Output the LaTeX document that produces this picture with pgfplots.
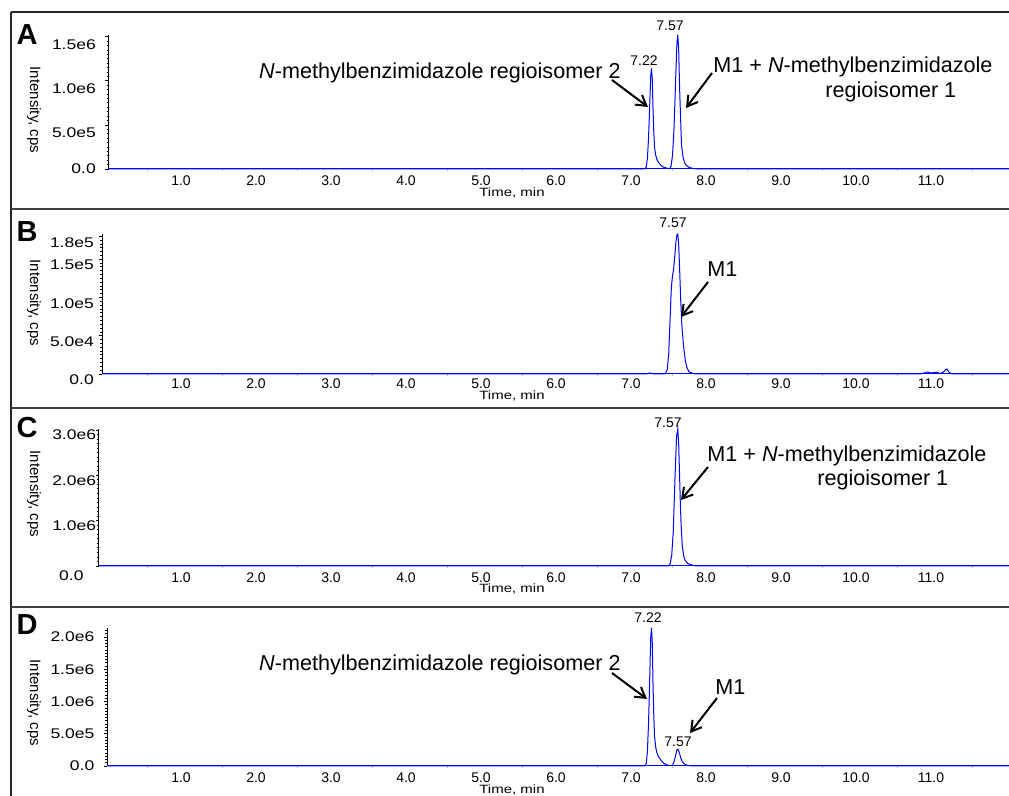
\documentclass[border=0pt]{standalone}
\usepackage{fontspec}
\setmainfont{Liberation Sans}
\usepackage{pgfplots}
\pgfplotsset{compat=1.18}
\usetikzlibrary{arrows.meta}

% Chromatogram traces (time in min, intensity in cps)
\pgfplotstableread{
t I
-0.02 0
7.13 0
7.15 22800
7.165 114000
7.18 342000
7.19 570000
7.20 820800
7.21 1060200
7.22 1140000
7.23 1026000
7.24 684000
7.25 433200
7.26 250800
7.275 159600
7.29 114000
7.31 79800
7.34 45600
7.38 20520
7.44 5700
7.46 2000
7.48 31400
7.50 152000
7.52 456000
7.532 760000
7.545 1094400
7.558 1413600
7.57 1520000
7.582 1368000
7.595 912000
7.608 577600
7.62 273600
7.64 136800
7.66 76000
7.68 45600
7.72 18240
7.77 6080
7.84 0
11.14 0
11.17 2500
11.20 0
12.1 0
}\dataA

\pgfplotstableread{
t I
-0.1 0
7.15 0
7.20 1300
7.25 0
7.40 0
7.43 5490
7.45 27450
7.47 76860
7.485 113460
7.50 128100
7.515 137250
7.53 153720
7.545 172020
7.56 182085
7.57 183000
7.582 170190
7.595 137250
7.61 95160
7.625 64050
7.645 38430
7.67 18300
7.69 9150
7.72 2745
7.77 732
7.82 0
10.80 0
10.86 1500
10.90 2600
10.94 1200
10.98 1800
11.02 2200
11.06 800
11.10 1500
11.14 5500
11.16 6500
11.19 2000
11.23 0
12.1 0
}\dataB

\pgfplotstableread{
t I
-0.15 0
7.45 0
7.47 60400
7.49 241600
7.51 755000
7.525 1510000
7.54 2265000
7.555 2869000
7.57 3020000
7.582 2718000
7.595 1963000
7.605 1359000
7.615 906000
7.63 453000
7.65 211400
7.67 120800
7.70 60400
7.75 24160
7.82 0
12.1 0
}\dataC

\pgfplotstableread{
t I
-0.04 0
7.13 0
7.15 42800
7.165 214000
7.18 642000
7.19 1070000
7.20 1540800
7.21 1990200
7.22 2140000
7.23 1926000
7.24 1284000
7.25 813200
7.26 470800
7.275 299600
7.29 214000
7.31 149800
7.34 100000
7.38 45000
7.44 10700
7.48 4000
7.50 15000
7.52 60000
7.535 130000
7.55 210000
7.56 250000
7.57 260000
7.58 245000
7.595 190000
7.61 125000
7.625 80000
7.645 45000
7.67 22000
7.70 10000
7.75 3000
7.80 0
12.1 0
}\dataD

\newcommand{\tickfont}{\fontsize{7}{8}\selectfont}
\newcommand{\bigfont}{\fontsize{10.8}{13}\selectfont}

\pgfplotsset{
  chrom/.style={
    scale only axis, anchor=south west,
    axis x line=bottom, axis y line=left,
    axis line style={-, line width=0.5pt},
    x axis line style={blue},
    xmax=12.1, ymin=0,
    xtick={1,2,3,4,5,6,7,8,9,10,11},
    xticklabels={1.0,2.0,3.0,4.0,5.0,6.0,7.0,8.0,9.0,10.0,11.0},
    major x tick style={draw=none},
    minor xtick={0.5,1.5,2.5,3.5,4.5,5.5,6.5,7.5,8.5,9.5,10.5,11.5},
    minor x tick style={gray!50},
    tick align=outside,
    major tick length=1.6pt, minor tick length=1pt,
    y tick style={black, line width=0.4pt},
    scaled y ticks=false,
    xticklabel style={font=\tickfont, inner sep=0pt, anchor=north, xshift=-2pt},
    xticklabel shift=1.5pt,
    yticklabel style={font=\tickfont, inner sep=0pt, anchor=east, xscale=1.25},
    clip=false,
  },
  trace/.style={blue, line width=0.5pt, no marks},
}

\begin{document}
\begin{tikzpicture}
\path[use as bounding box] (0,0) rectangle (504.5pt,-398pt);

% Panel A
\begin{axis}[chrom, at={(54.25pt,-84.5pt)}, xmin=-0.02, width=454.5pt, height=67pt,
  ymax=1.52e6, ytick={5e5,1e6,1.5e6}, yticklabels={5.0e5,1.0e6,1.5e6},
  minor ytick={0,50000,...,1500000},
  yticklabel style={yshift=-4pt}, yticklabel shift=4.5pt,
  extra y ticks={0}, extra y tick labels={0.0},
  extra y tick style={yticklabel style={yshift=4pt}}]
\addplot[trace] table[x=t,y=I] {\dataA};
\end{axis}

% Panel B
\begin{axis}[chrom, at={(51.25pt,-187pt)}, xmin=-0.1, width=457.5pt, height=70pt,
  ymax=1.83e5, ytick={0,5e4,1e5,1.5e5,1.8e5}, yticklabels={0.0,5.0e4,1.0e5,1.5e5,1.8e5},
  minor ytick={0,5000,...,180000},
  xticklabel shift=0.8pt,
  yticklabel style={yshift=-3pt}, yticklabel shift=2.5pt]
\addplot[trace] table[x=t,y=I] {\dataB};
\end{axis}

% Panel C
\begin{axis}[chrom, at={(49.375pt,-283pt)}, xmin=-0.15, width=459.375pt, height=68.5pt,
  ymax=3.02e6, ytick={1e6,2e6,3e6}, yticklabels={1.0e6,2.0e6,3.0e6},
  minor ytick={0,100000,...,3000000},
  yticklabel style={yshift=-2.5pt}, yticklabel shift=-0.5pt,
  extra y ticks={0}, extra y tick labels={0.0},
  extra y tick style={yticklabel style={yshift=-2.5pt, xshift=-5pt}}]
\addplot[trace] table[x=t,y=I] {\dataC};
\end{axis}

% Panel D
\begin{axis}[chrom, at={(53.5pt,-383pt)}, xmin=-0.04, width=455.25pt, height=69pt,
  ymax=2.14e6, ytick={0,5e5,1e6,1.5e6,2e6}, yticklabels={0.0,5.0e5,1.0e6,1.5e6,2.0e6},
  minor ytick={0,50000,...,2100000},
  yticklabel shift=4.5pt]
\addplot[trace] table[x=t,y=I] {\dataD};
\end{axis}

\begin{scope}[x=0.5pt, y=-0.5pt]
  % frames
  \draw[line width=0.9pt, black!85] (11,12) -- (1015,12);
  \draw[line width=0.9pt, black!85] (11,12) -- (11,800);
  \foreach \yy in {209,408,607}
    \draw[line width=1.3pt, black!75] (11,\yy) -- (1015,\yy);

  % panel letters
  \foreach \lt/\yy in {A/35,B/232,C/428,D/625}
    \node[font=\fontsize{14.5}{16}\selectfont\bfseries] at (27,\yy) {\lt};

  % y labels
  \foreach \yy in {110,303,494,703}
    \node[rotate=-90, font=\fontsize{7.5}{9}\selectfont] at (34,\yy) {Intensity, cps};

  % x labels
  \foreach \yy in {193,396,589,790}
    \node[font=\fontsize{6}{7}\selectfont, xscale=1.25, inner sep=0pt] at (512,\yy) {Time, min};

  % peak labels
  \node[font=\tickfont] at (644,61) {7.22};
  \node[font=\tickfont] at (670,26) {7.57};
  \node[font=\tickfont] at (673,223) {7.57};
  \node[font=\tickfont] at (668,423) {7.57};
  \node[font=\tickfont] at (648,618) {7.22};
  \node[font=\tickfont] at (678,742) {7.57};

  % annotations
  \tikzset{ann/.style={-{Straight Barb[length=5pt,width=6pt]}, line width=1pt}}
  \node[font=\bigfont, anchor=base east, inner sep=0pt] at (621,79) {\textit{N}-methylbenzimidazole regioisomer 2};
  \draw[ann] (612,80) -- (648,107);
  \node[font=\bigfont, anchor=base west, inner sep=0pt] at (713,73) {M1 + \textit{N}-methylbenzimidazole};
  \node[font=\bigfont, anchor=base west, inner sep=0pt] at (825,98) {regioisomer 1};
  \draw[ann] (712,73) -- (686,108);

  \node[font=\bigfont, anchor=base west, inner sep=0pt] at (707,277) {M1};
  \draw[ann] (708,282) -- (681,317);

  \node[font=\bigfont, anchor=base west, inner sep=0pt] at (707,462) {M1 + \textit{N}-methylbenzimidazole};
  \node[font=\bigfont, anchor=base west, inner sep=0pt] at (817,486) {regioisomer 1};
  \draw[ann] (708,467) -- (681,500);

  \node[font=\bigfont, anchor=base east, inner sep=0pt] at (621,671) {\textit{N}-methylbenzimidazole regioisomer 2};
  \draw[ann] (612,673) -- (647,699);
  \node[font=\bigfont, anchor=base west, inner sep=0pt] at (715,695) {M1};
  \draw[ann] (717,698) -- (690,733);
\end{scope}
\end{tikzpicture}
\end{document}
